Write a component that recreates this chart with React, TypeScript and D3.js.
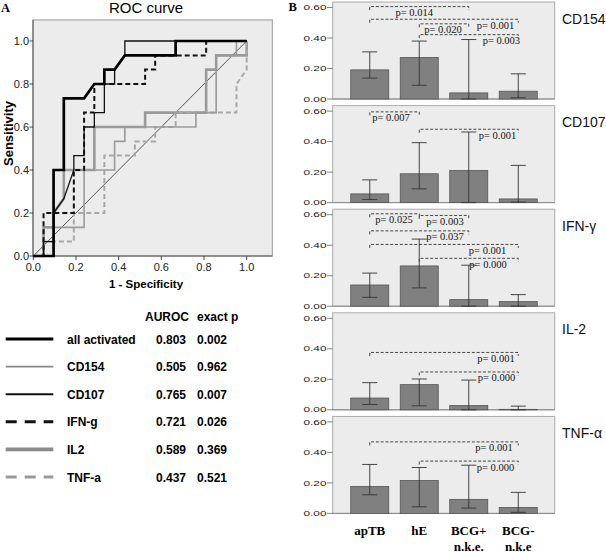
import React from 'react';
import * as d3 from 'd3';

// ---------- Panel A: ROC data ----------
const rocNames = ['all activated', 'CD154', 'CD107', 'IFN-g', 'IL2', 'TNF-a'];
const rocAuroc = ['0.803', '0.505', '0.765', '0.721', '0.589', '0.437'];
const rocExactP = ['0.002', '0.962', '0.007', '0.026', '0.369', '0.521'];
const rocTicks = [0, 0.2, 0.4, 0.6, 0.8, 1.0];

// points: [1 - specificity, sensitivity]
const rocAllActivated: [number, number][] = [
  [0, 0], [0.095, 0], [0.095, 0.4], [0.143, 0.4], [0.143, 0.733], [0.238, 0.733],
  [0.286, 0.8], [0.333, 0.8], [0.333, 0.867], [0.381, 0.867], [0.429, 0.933],
  [0.667, 0.933], [0.667, 1], [1, 1],
];
const rocCD154: [number, number][] = [
  [0, 0], [0.095, 0], [0.095, 0.133], [0.238, 0.133], [0.238, 0.4], [0.381, 0.4],
  [0.381, 0.533], [0.429, 0.533], [0.429, 0.6], [0.762, 0.6], [0.762, 0.667],
  [0.857, 0.667], [0.857, 0.933], [0.952, 0.933], [0.952, 1], [1, 1],
];
const rocCD107: [number, number][] = [
  [0, 0], [0.048, 0], [0.048, 0.067], [0.095, 0.067], [0.095, 0.2], [0.143, 0.267],
  [0.19, 0.4], [0.19, 0.467], [0.238, 0.467], [0.238, 0.6], [0.286, 0.6],
  [0.286, 0.667], [0.333, 0.667], [0.333, 0.8], [0.381, 0.8], [0.381, 0.867],
  [0.429, 0.933], [0.429, 1], [1, 1],
];
const rocIFNg: [number, number][] = [
  [0, 0], [0.048, 0], [0.048, 0.2], [0.19, 0.2], [0.19, 0.4], [0.238, 0.4],
  [0.238, 0.667], [0.286, 0.667], [0.286, 0.8], [0.524, 0.8], [0.524, 0.867],
  [0.571, 0.867], [0.571, 0.933], [0.81, 0.933], [0.81, 1], [1, 1],
];
const rocIL2: [number, number][] = [
  [0, 0], [0.048, 0], [0.048, 0.133], [0.095, 0.133], [0.095, 0.2], [0.143, 0.267],
  [0.143, 0.4], [0.286, 0.4], [0.286, 0.6], [0.524, 0.6], [0.524, 0.667],
  [0.81, 0.667], [0.81, 0.867], [0.857, 0.867], [0.857, 0.933], [1, 0.933], [1, 1],
];
const rocTNFa: [number, number][] = [
  [0, 0], [0.048, 0], [0.048, 0.067], [0.19, 0.067], [0.19, 0.2], [0.333, 0.2],
  [0.333, 0.467], [0.476, 0.467], [0.476, 0.533], [0.571, 0.533], [0.571, 0.6],
  [0.667, 0.6], [0.667, 0.667], [0.952, 0.667], [0.952, 0.8], [1, 0.867], [1, 1],
];

// ---------- Panel B: bar data ----------
const groupLine1 = ['apTB', 'hE', 'BCG+', 'BCG-'];
const groupLine2 = ['', '', 'n.k.e.', 'n.k.e'];
const markers = ['CD154', 'CD107', 'IFN-γ', 'IL-2', 'TNF-α'];
const barTicks = [0, 0.2, 0.4, 0.6];

const cd154Mean = [0.191, 0.272, 0.040, 0.051];
const cd154Low = [0.137, 0.090, 0.0, 0.008];
const cd154High = [0.309, 0.380, 0.390, 0.165];
const cd107Mean = [0.057, 0.189, 0.211, 0.024];
const cd107Low = [0.020, 0.090, 0.0, 0.003];
const cd107High = [0.149, 0.393, 0.463, 0.244];
const ifnMean = [0.139, 0.264, 0.043, 0.030];
const ifnLow = [0.058, 0.120, 0.0, 0.0];
const ifnHigh = [0.217, 0.440, 0.269, 0.076];
const il2Mean = [0.077, 0.165, 0.028, 0.003];
const il2Low = [0.035, 0.026, 0.0, 0.0];
const il2High = [0.178, 0.202, 0.195, 0.024];
const tnfMean = [0.177, 0.216, 0.092, 0.039];
const tnfLow = [0.122, 0.043, 0.035, 0.007];
const tnfHigh = [0.321, 0.301, 0.316, 0.138];

type Bracket = { from: number; to: number; level: number; p: string; at: number };
const cd154Brackets: Bracket[] = [
  { from: 0, to: 2, level: 0.606, p: '0.014', at: 0.9 },
  { from: 0, to: 3, level: 0.523, p: '0.001', at: 2.54 },
  { from: 1, to: 2, level: 0.493, p: '0.020', at: 1.48 },
  { from: 1, to: 3, level: 0.422, p: '0.003', at: 2.66 },
];
const cd107Brackets: Bracket[] = [
  { from: 0, to: 1, level: 0.595, p: '0.007', at: 0.43 },
  { from: 1, to: 3, level: 0.481, p: '0.001', at: 2.58 },
];
const ifnBrackets: Bracket[] = [
  { from: 0, to: 1, level: 0.606, p: '0.025', at: 0.49 },
  { from: 1, to: 2, level: 0.595, p: '0.003', at: 1.52 },
  { from: 0, to: 2, level: 0.494, p: '0.037', at: 1.52 },
  { from: 0, to: 3, level: 0.405, p: '0.001', at: 2.38 },
  { from: 1, to: 3, level: 0.314, p: '0.000', at: 2.39 },
];
const il2Brackets: Bracket[] = [
  { from: 0, to: 3, level: 0.376, p: '0.001', at: 2.55 },
  { from: 1, to: 3, level: 0.248, p: '0.000', at: 2.56 },
];
const tnfBrackets: Bracket[] = [
  { from: 0, to: 3, level: 0.469, p: '0.001', at: 2.51 },
  { from: 1, to: 3, level: 0.343, p: '0.000', at: 2.54 },
];

const panelMeans = [cd154Mean, cd107Mean, ifnMean, il2Mean, tnfMean];
const panelLows = [cd154Low, cd107Low, ifnLow, il2Low, tnfLow];
const panelHighs = [cd154High, cd107High, ifnHigh, il2High, tnfHigh];
const panelBrackets = [cd154Brackets, cd107Brackets, ifnBrackets, il2Brackets, tnfBrackets];

const rocSeries = [rocAllActivated, rocCD154, rocCD107, rocIFNg, rocIL2, rocTNFa];

const SANS = 'Liberation Sans, Arial, sans-serif';
const SERIF = 'Liberation Serif, Times New Roman, serif';

const plotStyles = [
  { stroke: '#000', w: 2.7, dash: undefined as string | undefined },
  { stroke: '#9a9a9a', w: 1.6, dash: undefined },
  { stroke: '#111', w: 1.3, dash: undefined },
  { stroke: '#111', w: 2.0, dash: '5,3' },
  { stroke: '#9a9a9a', w: 2.6, dash: undefined },
  { stroke: '#a8a8a8', w: 2.0, dash: '5,3' },
];
const legendStyles = [
  { stroke: '#000', w: 3.2, dash: undefined as string | undefined },
  { stroke: '#8a8a8a', w: 1.6, dash: undefined },
  { stroke: '#111', w: 2.0, dash: undefined },
  { stroke: '#111', w: 3.0, dash: '11,8' },
  { stroke: '#8a8a8a', w: 3.6, dash: undefined },
  { stroke: '#999', w: 3.0, dash: '11,8' },
];

export default function App() {
  // ---- ROC scales ----
  const x = d3.scaleLinear().domain([0, 1]).range([33.3, 246.7]);
  const y = d3.scaleLinear().domain([0, 1]).range([256, 41]);
  const fx0 = x(0) - 0.3, fx1 = x(1.12), fy0 = y(1.098), fy1 = y(0);
  const line = d3.line<[number, number]>().x(d => x(d[0])).y(d => y(d[1]));
  const drawOrder = [4, 5, 1, 3, 2, 0];

  // ---- Bar scales ----
  const band = d3.scaleBand<number>().domain([0, 1, 2, 3]).range([345, 543])
    .paddingInner(0.232).paddingOuter(0.116);
  const pos = d3.scaleLinear().domain([0, 3]).range([band(0)! + band.bandwidth() / 2, band(3)! + band.bandwidth() / 2]);
  const bxL = 332.7, bxR = 554.7;
  const legendRows = d3.range(rocNames.length);
  const rowY = d3.scaleLinear().domain([0, 5]).range([343.5, 481.5]);

  return (
    <svg width={606} height={552} viewBox="0 0 606 552"
      style={{ position: 'absolute', left: 0, top: 0, background: '#fff' }}>
      {/* Panel letters */}
      <text x={1} y={12} fontFamily={SERIF} fontWeight="bold" fontSize={12.5}>A</text>
      <text x={288.5} y={11} fontFamily={SERIF} fontWeight="bold" fontSize={12.5}>B</text>

      {/* ROC frame */}
      <text x={146} y={13.3} textAnchor="middle" fontFamily={SANS} fontSize={15}>ROC curve</text>
      <rect x={fx0} y={fy0} width={fx1 - fx0} height={fy1 - fy0} fill="#ececec" stroke="#999" strokeWidth={1} />
      <line x1={fx0} x2={fx0} y1={fy0} y2={fy1} stroke="#555" />
      <line x1={fx0} x2={fx1} y1={fy1} y2={fy1} stroke="#555" />
      {rocTicks.map(t => (
        <g key={'yt' + t}>
          <line x1={fx0 - 3.5} x2={fx0} y1={y(t)} y2={y(t)} stroke="#444" />
          <text x={29} y={y(t) + 3.8} textAnchor="end" fontFamily={SANS} fontSize={11} fill="#222">{t.toFixed(1)}</text>
          <line x1={x(t)} x2={x(t)} y1={fy1} y2={fy1 + 4} stroke="#444" />
          <text x={x(t)} y={271} textAnchor="middle" fontFamily={SANS} fontSize={11} fill="#222">{t.toFixed(1)}</text>
        </g>
      ))}
      <text transform={`translate(13,133.5) rotate(-90)`} textAnchor="middle" fontFamily={SANS} fontWeight="bold" fontSize={13}>Sensitivity</text>
      <text x={146} y={287.5} textAnchor="middle" fontFamily={SANS} fontWeight="bold" fontSize={11.5}>1 - Specificity</text>

      {/* reference diagonal */}
      <line x1={x(0)} y1={y(0)} x2={x(1)} y2={y(1)} stroke="#444" strokeWidth={0.9} />
      {drawOrder.map(i => (
        <path key={'roc' + i} d={line(rocSeries[i]) || ''} fill="none"
          stroke={plotStyles[i].stroke} strokeWidth={plotStyles[i].w}
          strokeDasharray={plotStyles[i].dash} strokeLinejoin="miter" />
      ))}

      {/* ROC legend table */}
      <text x={145} y={321} fontFamily={SANS} fontWeight="bold" fontSize={12}>AUROC</text>
      <text x={197} y={321} fontFamily={SANS} fontWeight="bold" fontSize={12}>exact p</text>
      {legendRows.map(i => (
        <g key={'leg' + i}>
          <line x1={5.7} x2={53.3} y1={rowY(i) - 4.5} y2={rowY(i) - 4.5}
            stroke={legendStyles[i].stroke} strokeWidth={legendStyles[i].w}
            strokeDasharray={legendStyles[i].dash} />
          <text x={67} y={rowY(i)} fontFamily={SANS} fontWeight="bold" fontSize={12}>{rocNames[i]}</text>
          <text x={156} y={rowY(i)} fontFamily={SANS} fontWeight="bold" fontSize={12}>{rocAuroc[i]}</text>
          <text x={197} y={rowY(i)} fontFamily={SANS} fontWeight="bold" fontSize={12}>{rocExactP[i]}</text>
        </g>
      ))}

      {/* Panel B */}
      {markers.map((m, pi) => {
        const zeroY = 99 + 103.6 * pi;
        const ys = d3.scaleLinear().domain([0, 0.6]).range([zeroY, zeroY - 91.5]);
        const top = ys(0.636);
        const means = panelMeans[pi], lows = panelLows[pi], highs = panelHighs[pi];
        return (
          <g key={'p' + pi}>
            <rect x={bxL} y={top} width={bxR - bxL} height={zeroY - top} fill="#ececec" stroke="#aaa" strokeWidth={1} />
            {barTicks.map(t => (
              <g key={'bt' + t}>
                <line x1={327} x2={bxL} y1={ys(t)} y2={ys(t)} stroke="#666" strokeWidth={0.8} />
                <text x={326.5} y={ys(t) + 2.6} textAnchor="end" fontFamily={SANS} fontSize={7.5}
                  textLength={23} lengthAdjust="spacingAndGlyphs" fill="#222">{t.toFixed(2)}</text>
              </g>
            ))}
            <line x1={bxL} x2={bxR} y1={zeroY} y2={zeroY} stroke="#888" strokeWidth={1} />
            {means.map((v, bi) => (
              <rect key={'b' + bi} x={band(bi)} y={ys(v)} width={band.bandwidth()} height={zeroY - ys(v)}
                fill="#808080" stroke="#555" strokeWidth={0.8} />
            ))}
            {means.map((v, bi) => {
              const cx = pos(bi);
              return (
                <g key={'e' + bi} stroke="#333" strokeWidth={0.9}>
                  <line x1={cx} x2={cx} y1={ys(highs[bi])} y2={ys(lows[bi])} />
                  <line x1={cx - 7.5} x2={cx + 7.5} y1={ys(highs[bi])} y2={ys(highs[bi])} />
                  <line x1={cx - 7.5} x2={cx + 7.5} y1={ys(lows[bi])} y2={ys(lows[bi])} />
                </g>
              );
            })}
            {panelBrackets[pi].map((b, k) => {
              const yy = ys(b.level);
              const x1 = pos(b.from), x2 = pos(b.to);
              return (
                <g key={'br' + k}>
                  <path d={`M${x1},${yy + 3.5}V${yy}H${x2}V${yy + 3.5}`} fill="none" stroke="#333"
                    strokeWidth={0.9} strokeDasharray="3,1.8" />
                  <text x={pos(b.at)} y={yy + 9.5} textAnchor="middle" fontFamily={SERIF} fontSize={10.5} fill="#111">{'p= ' + b.p}</text>
                </g>
              );
            })}
            <text x={562} y={ys(0.6) + 16} fontFamily={SANS} fontSize={14} fill="#111">{m}</text>
          </g>
        );
      })}
      {groupLine1.map((g, i) => (
        <g key={'gl' + i}>
          <text x={pos(i)} y={535} textAnchor="middle" fontFamily={SERIF} fontWeight="bold" fontSize={13}>{g}</text>
          {groupLine2[i] && (
            <text x={pos(i)} y={550.5} textAnchor="middle" fontFamily={SERIF} fontWeight="bold" fontSize={13}>{groupLine2[i]}</text>
          )}
        </g>
      ))}
    </svg>
  );
}
